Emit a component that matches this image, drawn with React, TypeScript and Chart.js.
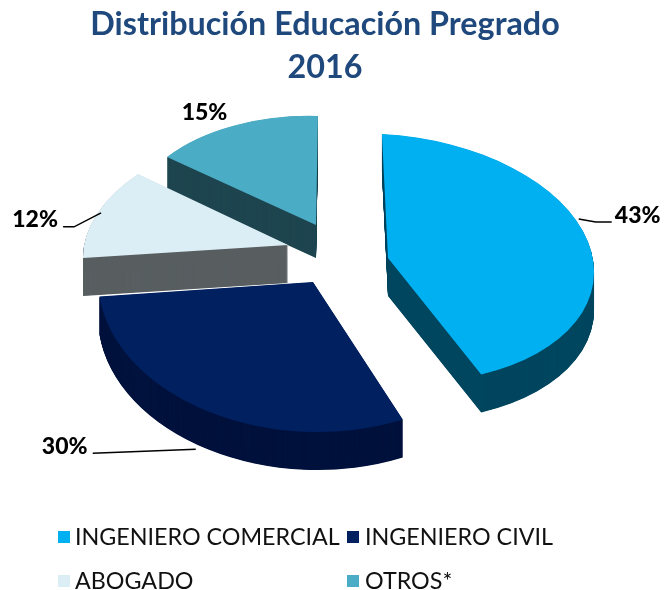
import React, { useEffect, useRef } from "react";
import { Chart, registerables } from "chart.js";

Chart.register(...registerables);

const categories = ["INGENIERO COMERCIAL", "INGENIERO CIVIL", "ABOGADO", "OTROS*"];
const shares = [43, 30, 12, 15];
const titleLines = ["Distribución Educación Pregrado", "2016"];
const faceColors = ["#00B0F0", "#002060", "#DCEEF5", "#4BACC6"];
const wallColors = ["#00465F", "#00123D", "#595F61", "#1F4650"];

const FONT = "Lato, 'Open Sans', sans-serif";

// 3D pose of each slice, relative to the chart's centre
const poses = [
  { ex: 63, ey: 8, rx: 206, ry: 124, shearX: 0.049, shearY: 0.05, depth: 38 },
  { ex: -12, ey: 32, rx: 215, ry: 150, shearX: -0.013, shearY: 0.02, depth: 38 },
  { ex: -37, ey: -5, rx: 203.5, ry: 118, shearX: -0.211, shearY: 0.009, depth: 38 },
  { ex: -9, ey: -25, rx: 185.6, ry: 109, shearX: -0.018, shearY: 0.026, depth: 33 },
];
const drawOrder = [3, 2, 1, 0];

// Label centre and leader polyline, relative to the slice's rim at mid-angle
const labelNotes = [
  { lx: 50, ly: -25, leader: [[-9, -22], [8, -19], [24, -19]] },
  { lx: -143, ly: -3, leader: [[-12, 0], [-115, 4]] },
  { lx: -62, ly: 6, leader: [[4, -1], [-23, 13], [-34, 13]] },
  { lx: -29, ly: -13, leader: [] },
];

const legendSpec = {
  columns: [58, 347],
  rows: [537, 581],
  box: 12,
  gapX: 5,
  gapXCol2: 6,
  size: 23.3,
};

function applyPose(ctx: CanvasRenderingContext2D, arc: any, i: number, dy: number) {
  const p = poses[i];
  const R = arc.outerRadius;
  ctx.translate(0, dy);
  ctx.transform(
    p.rx / R,
    (p.shearY * p.rx) / R,
    (p.shearX * p.ry) / R,
    p.ry / R,
    arc.x + p.ex,
    arc.y + p.ey
  );
  ctx.translate(-arc.x, -arc.y);
}

function rimPoint(arc: any, i: number) {
  const p = poses[i];
  const mid = (arc.startAngle + arc.endAngle) / 2;
  const ux = Math.cos(mid);
  const uy = Math.sin(mid);
  const x = p.rx * ux + p.shearX * p.ry * uy;
  const y = p.ry * uy + p.shearY * p.rx * ux;
  return { x: arc.x + p.ex + x, y: arc.y + p.ey + y };
}

const pie3d = {
  id: "pie3d",
  beforeDatasetDraw(chart: any) {
    const { ctx } = chart;
    const arcs = chart.getDatasetMeta(0).data;
    for (const i of drawOrder) {
      const arc = arcs[i];
      const base = arc.options;
      const wall = Object.create(base);
      wall.backgroundColor = wallColors[i];
      arc.options = wall;
      for (let d = poses[i].depth; d >= 0.5; d -= 0.5) {
        ctx.save();
        applyPose(ctx, arc, i, d);
        arc.draw(ctx);
        ctx.restore();
      }
      arc.options = base;
      ctx.save();
      applyPose(ctx, arc, i, 0);
      arc.draw(ctx);
      ctx.restore();
    }
    return false;
  },
  afterDraw(chart: any) {
    const { ctx } = chart;
    const arcs = chart.getDatasetMeta(0).data;
    ctx.save();
    shares.forEach((v, i) => {
      const rim = rimPoint(arcs[i], i);
      const note = labelNotes[i];
      const extra = i === 1 ? poses[i].depth : 0;
      if (note.leader.length) {
        ctx.beginPath();
        note.leader.forEach(([dx, dy], k) => {
          const x = rim.x + dx;
          const y = rim.y + dy + extra;
          if (k === 0) ctx.moveTo(x, y);
          else ctx.lineTo(x, y);
        });
        ctx.strokeStyle = "#000";
        ctx.lineWidth = 1.5;
        ctx.stroke();
      }
      ctx.fillStyle = "#000";
      ctx.font = `900 23px ${FONT}`;
      ctx.textAlign = "center";
      ctx.textBaseline = "middle";
      ctx.fillText(`${v}%`, rim.x + note.lx, rim.y + note.ly + extra);
    });
    // Legend
    ctx.font = `${legendSpec.size}px ${FONT}`;
    ctx.textAlign = "left";
    ctx.textBaseline = "middle";
    categories.forEach((name, i) => {
      const col = i % 2;
      const row = Math.floor(i / 2);
      const x = legendSpec.columns[col];
      const y = legendSpec.rows[row];
      ctx.fillStyle = faceColors[i];
      ctx.fillRect(x, y - legendSpec.box / 2, legendSpec.box, legendSpec.box);
      ctx.fillStyle = "#111";
      const gap = col === 0 ? legendSpec.gapX : legendSpec.gapXCol2;
      ctx.fillText(name, x + legendSpec.box + gap, y);
    });
    ctx.restore();
  },
};

export default function App() {
  const ref = useRef<HTMLCanvasElement>(null);
  useEffect(() => {
    document.body.style.margin = "0";
    const chart = new Chart(ref.current!, {
      type: "pie",
      data: {
        labels: categories,
        datasets: [{ data: shares, backgroundColor: faceColors, borderWidth: 0 }],
      },
      options: {
        responsive: false,
        animation: false,
        devicePixelRatio: 1,
        layout: { padding: { bottom: 179, right: 15 } },
        plugins: {
          legend: { display: false },
          tooltip: { enabled: false },
          title: {
            display: true,
            text: titleLines,
            color: "#1F497D",
            font: { family: FONT, size: 32.3, weight: "bold", lineHeight: 1.33 },
            padding: { top: 3, bottom: 0 },
          },
        },
      },
      plugins: [pie3d],
    } as any);
    return () => chart.destroy();
  }, []);
  return <canvas ref={ref} width={665} height={590} style={{ display: "block" }} />;
}
